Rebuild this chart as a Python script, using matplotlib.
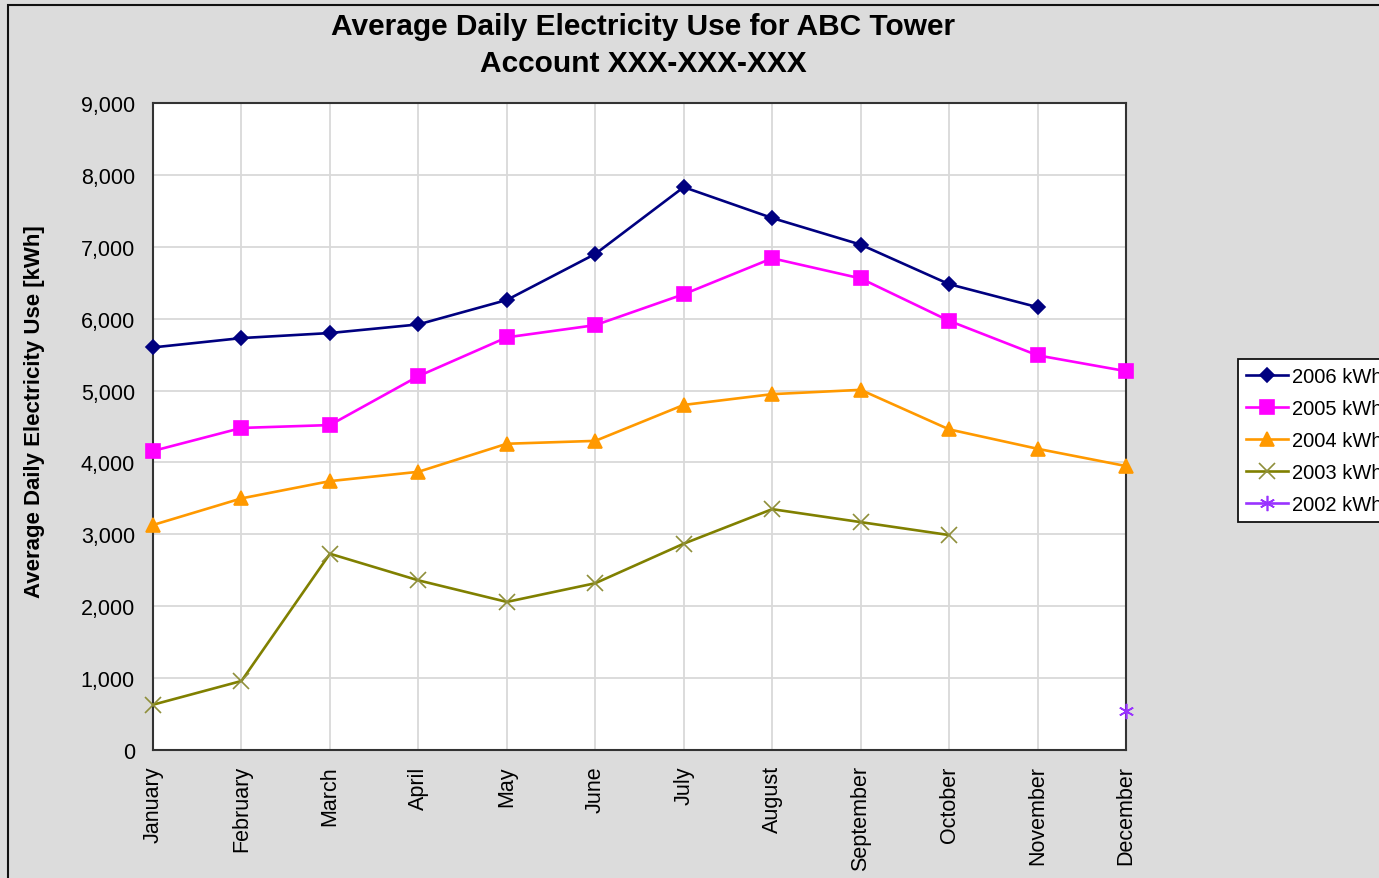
import matplotlib
matplotlib.use('Agg')
import matplotlib.pyplot as plt
import matplotlib.patches as patches
import numpy as np

plt.rcParams['font.family'] = ['Liberation Sans', 'DejaVu Sans']

aylar = ['January', 'February', 'March', 'April', 'May', 'June', 'July',
         'August', 'September', 'October', 'November', 'December']

kwh_2006 = [5600, 5730, 5800, 5920, 6260, 6900, 7830, 7400, 7030, 6480, 6160, np.nan]
kwh_2005 = [4160, 4480, 4520, 5200, 5740, 5910, 6340, 6840, 6560, 5970, 5490, 5270]
kwh_2004 = [3130, 3500, 3740, 3870, 4260, 4300, 4800, 4950, 5010, 4460, 4190, 3950]
kwh_2003 = [630, 960, 2730, 2360, 2060, 2320, 2870, 3350, 3170, 2990, np.nan, np.nan]
kwh_2002 = [np.nan] * 11 + [540]

seriler = [
    ('2006 kWh', kwh_2006, '#000080', 'D', 7, '#000080'),
    ('2005 kWh', kwh_2005, '#FF00FF', 's', 10, '#FF00FF'),
    ('2004 kWh', kwh_2004, '#FF9900', '^', 10, '#FF9900'),
    ('2003 kWh', kwh_2003, '#808000', 'x', 11, '#8f8f3a'),
    ('2002 kWh', kwh_2002, '#9933FF', (6, 2, 0), 11, '#9933FF'),
]

fig = plt.figure(figsize=(13.79, 8.79), dpi=100)
fig.patch.set_facecolor('#dcdcdc')

# cerceve (sag ve alt kenar resmin disinda kaliyor)
fig.patches.append(patches.Rectangle((8 / 1379, -0.2), 1.5, 1.2 - 6 / 879,
                                     transform=fig.transFigure, fill=False,
                                     edgecolor='#111111', linewidth=1.5))

ax = fig.add_axes([153 / 1379, 1 - 751 / 879, (1126 - 153) / 1379, (751 - 104) / 879])
ax.set_facecolor('white')

x = np.arange(len(aylar))
for etiket, degerler, renk, marker, ms, mrenk in seriler:
    ax.plot(x, degerler, color=renk, linewidth=1.9, marker=marker, markersize=ms,
            markerfacecolor=mrenk, markeredgecolor=mrenk, markeredgewidth=1.2,
            label=etiket, clip_on=False, zorder=3)

ax.set_xlim(0, 11)
ax.set_ylim(0, 9000)
ax.set_xticks(x)
ax.set_xticklabels(aylar, rotation=90, fontsize=15.5, va='top')
ax.set_yticks(np.arange(0, 9001, 1000))
ax.set_yticklabels([f'{v:,}' for v in range(0, 9001, 1000)], fontsize=15.5)
ax.tick_params(axis='both', length=0)
ax.tick_params(axis='x', pad=11)
ax.tick_params(axis='y', pad=13)
ax.grid(True, color='#d9d9d9', linewidth=1.3, zorder=0)
ax.set_axisbelow(True)
for sp in ax.spines.values():
    sp.set_color('#333333')
    sp.set_linewidth(1.5)

fig.text(35 / 1379, 1 - 412 / 879, 'Average Daily Electricity Use [kWh]', rotation=90,
         ha='center', va='center', fontsize=16, fontweight='bold')
fig.text(643 / 1379, 1 - 27 / 879, 'Average Daily Electricity Use for ABC Tower',
         ha='center', va='center', fontsize=21.5, fontweight='bold')
fig.text(643 / 1379, 1 - 64 / 879, 'Account XXX-XXX-XXX',
         ha='center', va='center', fontsize=21.5, fontweight='bold')

leg = fig.legend(loc='upper left', bbox_to_anchor=(1238 / 1379, 1 - 360 / 879),
                 fontsize=14.5, frameon=True, fancybox=False, borderaxespad=0,
                 handlelength=2.1, handletextpad=0.2, labelspacing=0.64,
                 borderpad=0.4, markerscale=1.0, framealpha=1)
leg.get_frame().set_edgecolor('#111111')
leg.get_frame().set_facecolor('white')
leg.get_frame().set_linewidth(1.3)

plt.savefig('out.png', dpi=100, facecolor=fig.get_facecolor())
